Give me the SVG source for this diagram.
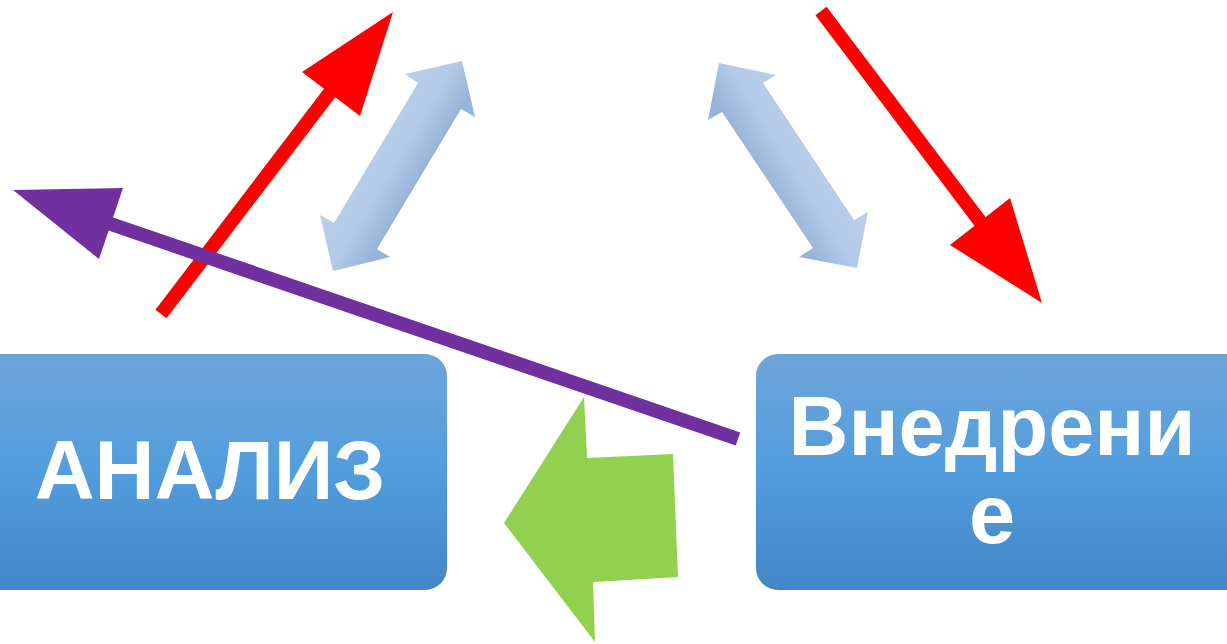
<svg xmlns="http://www.w3.org/2000/svg" width="1227" height="644" viewBox="0 0 1227 644">
  <style>
    .box { fill: url(#boxFill); }
    .label { font-family: "Liberation Sans", Arial, sans-serif; font-weight: bold; font-size: 83px; fill: #ffffff; text-anchor: middle; }
    .red { stroke: #FF0000; stroke-width: 14; fill: none; }
    .redHead { fill: #FF0000; }
    .purple { stroke: #7030A0; stroke-width: 14; fill: none; }
    .purpleHead { fill: #7030A0; }
  </style>
  <defs>
    <linearGradient id="boxFill" x1="0" y1="0" x2="0" y2="1">
      <stop offset="0" stop-color="#6DA5DA"/>
      <stop offset="0.5" stop-color="#529DDD"/>
      <stop offset="1" stop-color="#4386C7"/>
    </linearGradient>
    <linearGradient id="blueLeft" gradientUnits="userSpaceOnUse" x1="375" y1="140" x2="425" y2="170">
      <stop offset="0" stop-color="#B9CDE9"/>
      <stop offset="0.5" stop-color="#B3CAE8"/>
      <stop offset="1" stop-color="#96B3D8"/>
    </linearGradient>
    <linearGradient id="blueRight" gradientUnits="userSpaceOnUse" x1="815" y1="145" x2="762" y2="178">
      <stop offset="0" stop-color="#B9CDE9"/>
      <stop offset="0.5" stop-color="#B3CAE8"/>
      <stop offset="1" stop-color="#96B3D8"/>
    </linearGradient>
  </defs>

  <!-- process boxes -->
  <g id="node-analiz">
    <rect class="box" x="-22" y="354" width="469" height="236" rx="22"/>
    <text class="label" x="210" y="499">АНАЛИЗ</text>
  </g>
  <g id="node-vnedrenie">
    <rect class="box" x="756" y="354" width="494" height="236" rx="22"/>
    <text class="label" x="992" y="455">Внедрени</text>
    <text class="label" x="992" y="543">е</text>
  </g>

  <g id="connectors">
    <!-- block arrow pointing back to analysis -->
    <polygon fill="#92D050" points="504,523 584,397 587,458 673,454 678,577 593,582 595,642"/>

    <!-- two-way links -->
    <polygon fill="url(#blueLeft)" points="462,61 475,117 461,109 377,249 390,257 333,271 320,215 334,223 418,83 405,74"/>
    <polygon fill="url(#blueRight)" points="719,63 776,75 763,83 854,220 868,212 857,268 799,257 813,248 722,112 708,120"/>

    <!-- red arrows -->
    <line class="red" x1="161" y1="314" x2="338" y2="82"/>
    <polygon class="redHead" points="393,12 360,116 302,72"/>
    <line class="red" x1="821" y1="11" x2="985" y2="228"/>
    <polygon class="redHead" points="1042,303 950,245 1010,198"/>

    <!-- purple return arrow -->
    <line class="purple" x1="738" y1="439" x2="105" y2="222"/>
    <polygon class="purpleHead" points="13,190 123,188 99,259"/>
  </g>
</svg>
